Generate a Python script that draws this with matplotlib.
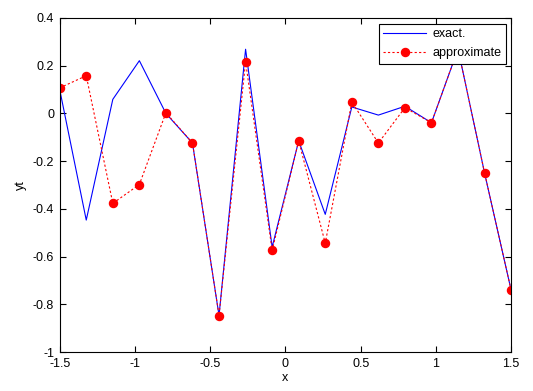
import numpy as np
import matplotlib
matplotlib.use("Agg")
import matplotlib.pyplot as plt

## Data
x = np.linspace(-1.5, 1.5, 18)
exact = [0.10, -0.447, 0.059, 0.221, 0.0, -0.124, -0.847, 0.269, -0.56,
         -0.115, -0.423, 0.027, -0.007, 0.03, -0.039, 0.27, -0.25, -0.741]
approx = [0.107, 0.158, -0.377, -0.298, 0.003, -0.124, -0.847, 0.217, -0.574,
          -0.115, -0.544, 0.048, -0.124, 0.024, -0.039, 0.27, -0.25, -0.741]
xticks = [-1.5, -1, -0.5, 0, 0.5, 1, 1.5]
xticklabels = ['-1.5', '-1', '-0.5', '0', '0.5', '1', '1.5']
yticks = [-1, -0.8, -0.6, -0.4, -0.2, 0, 0.2, 0.4]
yticklabels = ['-1', '-0.8', '-0.6', '-0.4', '-0.2', '0', '0.2', '0.4']

plt.rcParams['font.family'] = ['Liberation Sans', 'DejaVu Sans']
plt.rcParams['font.size'] = 9

fig = plt.figure(figsize=(5.33, 3.91), dpi=100)
ax = fig.add_axes([0.112, 0.0997, 0.847, 0.8543])

ax.plot(x, exact, '-', color='blue', linewidth=0.8, label='exact.')
ax.plot(x, approx, '--', color='red', linewidth=0.8, marker='o',
        markersize=5.8, markerfacecolor='red', markeredgecolor='red',
        dashes=(2, 2), label='approximate')

ax.set_xlim(-1.5, 1.5)
ax.set_ylim(-1, 0.4)
ax.set_xticks(xticks)
ax.set_xticklabels(xticklabels)
ax.set_yticks(yticks)
ax.set_yticklabels(yticklabels)
ax.tick_params(direction='in', top=True, right=True, length=4, width=0.8,
               labelsize=9, pad=4)
for s in ax.spines.values():
    s.set_linewidth(0.8)

ax.set_xlabel('x', labelpad=2)
ax.set_ylabel('yt', labelpad=4)

leg = ax.legend(loc='upper right', fancybox=False, edgecolor='black',
                framealpha=1, borderaxespad=0.45, handlelength=3.4,
                borderpad=0.35, labelspacing=0.6, handletextpad=0.5)
leg.get_frame().set_linewidth(0.8)

fig.savefig('out.png', dpi=100)
